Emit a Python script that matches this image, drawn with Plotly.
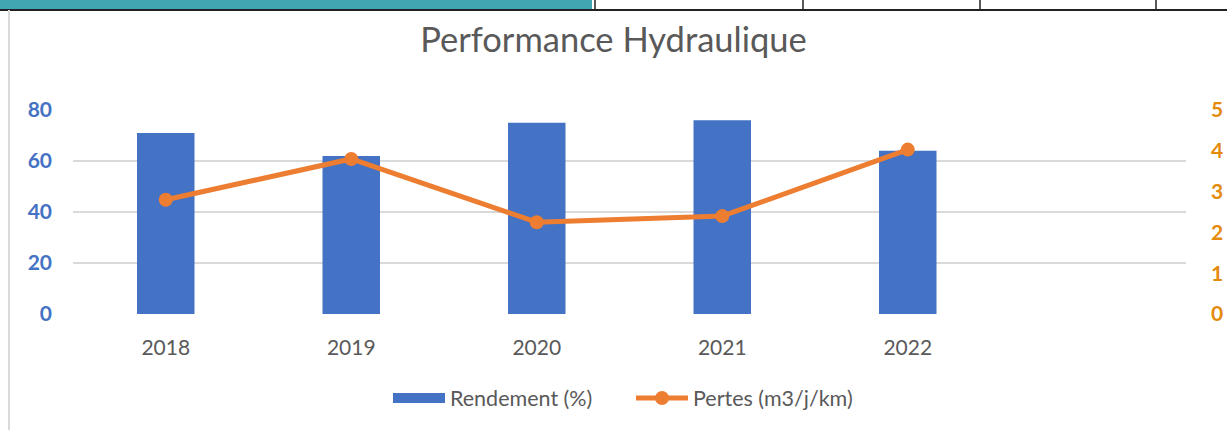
import plotly.graph_objects as go

years = ["2018", "2019", "2020", "2021", "2022"]
rendement = [71, 62, 75, 76, 64]
pertes = [2.8, 3.8, 2.25, 2.4, 4.03]
left_ticks = [0, 20, 40, 60, 80]
right_ticks = [0, 1, 2, 3, 4, 5]

BLUE = "#4472C4"
ORANGE = "#ED7D31"
ORANGE_TXT = "#E48A0C"
GREY = "#595959"
FONT = "Lato"

fig = go.Figure()
fig.add_trace(go.Bar(x=years, y=rendement, name="Rendement (%)", showlegend=False,
                     marker=dict(color=BLUE, line=dict(width=0)), yaxis="y"))
# legend proxy giving the wide rectangular swatch of the bar series
fig.add_trace(go.Scatter(x=[None], y=[None], name="Rendement (%)", mode="lines",
                         line=dict(color=BLUE, width=10), yaxis="y"))
fig.add_trace(go.Scatter(x=years, y=pertes, name="Pertes (m3/j/km)", mode="lines+markers",
                         line=dict(color=ORANGE, width=5),
                         marker=dict(color=ORANGE, size=14), yaxis="y2"))

W, H = 1227, 430
fig.update_layout(
    width=W, height=H,
    margin=dict(l=73, r=41, t=110, b=116, autoexpand=False),
    paper_bgcolor="white", plot_bgcolor="white",
    font=dict(family=FONT, color=GREY, size=21),
    title=dict(text="Performance Hydraulique", x=0.5, xanchor="center",
               y=1 - 40 / H, yanchor="middle",
               font=dict(family=FONT, size=34.5, color=GREY)),
    bargap=0.69,
    showlegend=True,
    legend=dict(orientation="h", x=(388 - 73) / 1113, xanchor="left", y=-(398 - 314) / 204,
                yanchor="middle", font=dict(size=21.5, color=GREY), itemwidth=52,
                entrywidth=176, entrywidthmode="pixels",
                traceorder="normal"),
    xaxis=dict(type="category", categoryarray=years, range=[-0.5, 5.5], automargin=False,
               showgrid=False, showline=False, zeroline=False, ticks="",
               tickfont=dict(size=21, color=GREY), ticklabelstandoff=19),
    yaxis=dict(range=[0, 80], tickvals=left_ticks, showgrid=True, gridcolor="#D9D9D9",
               gridwidth=1.5, zeroline=False, showline=False, ticks="", automargin=False,
               tickfont=dict(size=21, color=BLUE, weight="bold"), ticklabelstandoff=20),
    yaxis2=dict(range=[0, 5], tickvals=right_ticks, overlaying="y", side="right",
                showgrid=False, zeroline=False, showline=False, ticks="", automargin=False,
                tickfont=dict(size=21, color=ORANGE_TXT, weight="bold"), ticklabelstandoff=24),
)

# decorations of the surrounding spreadsheet
PW = 1113
shapes = [
    dict(type="rect", xref="paper", yref="paper", x0=-73 / PW, x1=(592 - 73) / PW,
         y0=1 + 101 / 204, y1=1 + 112 / 204, fillcolor="#41A6B1", line=dict(width=0), layer="below"),
    dict(type="line", xref="paper", yref="paper", x0=-73 / PW, x1=(1227 - 73) / PW,
         y0=1 + 100 / 204, y1=1 + 100 / 204, line=dict(color="#222222", width=2)),
    dict(type="line", xref="paper", yref="paper", x0=-64 / PW, x1=-64 / PW,
         y0=1 + 100 / 204, y1=-116 / 204, line=dict(color="#D9D9D9", width=2)),
]
for xv in [595, 803, 980, 1156]:
    shapes.append(dict(type="line", xref="paper", yref="paper", x0=(xv - 73) / PW, x1=(xv - 73) / PW,
                       y0=1 + 100 / 204, y1=1 + 112 / 204, line=dict(color="#222222", width=1.5)))
fig.update_layout(shapes=shapes)

fig.write_html("out.html", config={"displayModeBar": False},
               post_script="document.body.style.margin='0px';")
